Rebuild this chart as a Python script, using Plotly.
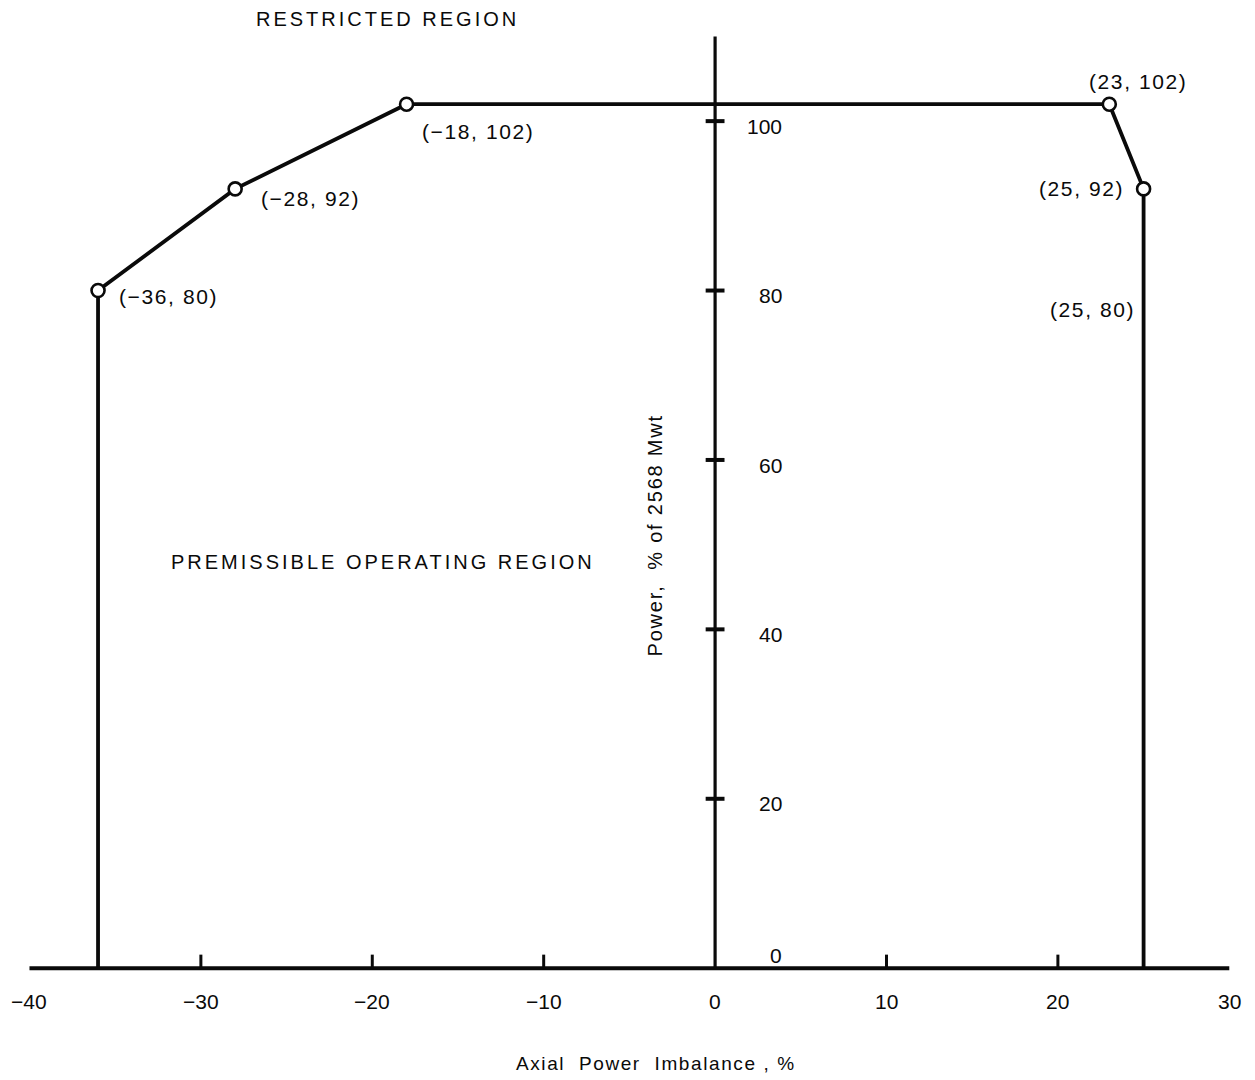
import plotly.graph_objects as go

# Operating limit envelope: axial power imbalance (%) vs power (% of 2568 MWt)
boundary_x = [-36, -36, -28, -18, 23, 25, 25]
boundary_y = [0, 80, 92, 102, 102, 92, 0]

# Corner points that get open-circle markers and coordinate labels
corner_x = [-36, -28, -18, 23, 25]
corner_y = [80, 92, 102, 102, 92]

x_ticks = [-40, -30, -20, -10, 0, 10, 20, 30]
x_tick_marks = [-30, -20, -10, 10, 20]
y_ticks = [0, 20, 40, 60, 80, 100]

x_min, x_max = -40, 30
y_top = 110

FONT = "Liberation Sans, Arial, sans-serif"
INK = "#0a0a0a"


def spaced(text, px):
    return f'<span style="letter-spacing:{px}px">{text}</span>'


def minus(v):
    return str(v).replace("-", "\u2212")


fig = go.Figure()

fig.add_trace(go.Scatter(
    x=boundary_x, y=boundary_y, mode="lines",
    line=dict(color=INK, width=3.8), hoverinfo="skip", showlegend=False,
))
fig.add_trace(go.Scatter(
    x=corner_x, y=corner_y, mode="markers",
    marker=dict(size=13, color="white", line=dict(color=INK, width=2.6)),
    hoverinfo="skip", showlegend=False,
))

shapes = []
# horizontal axis line
shapes.append(dict(type="line", x0=x_min, x1=x_max, y0=0, y1=0,
                   line=dict(color=INK, width=4)))
# vertical axis line through x = 0
shapes.append(dict(type="line", x0=0, x1=0, y0=0, y1=y_top,
                   line=dict(color=INK, width=3.2)))
# upward tick marks on the horizontal axis
for t in x_tick_marks:
    shapes.append(dict(type="line", x0=t, x1=t, y0=0, y1=1.6,
                       line=dict(color=INK, width=3)))
# cross ticks on the vertical axis
for t in y_ticks[1:]:
    shapes.append(dict(type="line", x0=-0.55, x1=0.55, y0=t, y1=t,
                       line=dict(color=INK, width=4)))

annotations = []
for t in x_ticks:
    annotations.append(dict(x=t, y=-3.9, text=minus(t), showarrow=False,
                            font=dict(size=21, color=INK, family=FONT),
                            xanchor="center", yanchor="middle"))
for t in y_ticks:
    yy = 1.5 if t == 0 else t - 0.6
    annotations.append(dict(x=4.0, y=yy, text=str(t), showarrow=False,
                            font=dict(size=21, color=INK, family=FONT),
                            xanchor="right", yanchor="middle"))

# coordinate labels for the envelope corners
point_labels = [
    (-34.9, 79.3, "left", "(-36, 80)"),
    (-26.6, 90.9, "left", "(-28, 92)"),
    (-17.2, 98.8, "left", "(-18, 102)"),
    (24.7, 104.7, "center", "(23, 102)"),
    (24.0, 92.1, "right", "(25, 92)"),
    (24.6, 77.8, "right", "(25, 80)"),
]
for px, py, anchor, txt in point_labels:
    annotations.append(dict(x=px, y=py, text=spaced(minus(txt), 1.6),
                            showarrow=False, xanchor=anchor, yanchor="middle",
                            font=dict(size=21, color=INK, family=FONT)))

# region captions
annotations.append(dict(x=-19.1, y=112.0, text=spaced("RESTRICTED REGION", 3),
                        showarrow=False, xanchor="center", yanchor="middle",
                        font=dict(size=20, color=INK, family=FONT)))
annotations.append(dict(x=-19.4, y=47.9,
                        text=spaced("PREMISSIBLE OPERATING REGION", 3),
                        showarrow=False, xanchor="center", yanchor="middle",
                        font=dict(size=20, color=INK, family=FONT)))

# axis titles
annotations.append(dict(x=-3.45, y=-11.2,
                        text=spaced("Axial  Power  Imbalance , %", 1.6),
                        showarrow=False, xanchor="center", yanchor="middle",
                        font=dict(size=19, color=INK, family=FONT)))
annotations.append(dict(x=-3.5, y=51.1,
                        text=spaced("Power,  % of 2568 Mwt", 1.8),
                        showarrow=False, textangle=-90,
                        xanchor="center", yanchor="middle",
                        font=dict(size=20, color=INK, family=FONT)))

fig.update_layout(
    width=1255, height=1080,
    margin=dict(l=0, r=0, t=0, b=0),
    paper_bgcolor="white", plot_bgcolor="white",
    xaxis=dict(range=[-41.72, 31.5], visible=False, fixedrange=True),
    yaxis=dict(range=[-13.2, 114.3], visible=False, fixedrange=True),
    shapes=shapes, annotations=annotations,
    showlegend=False,
)

fig.write_html("out.html")
